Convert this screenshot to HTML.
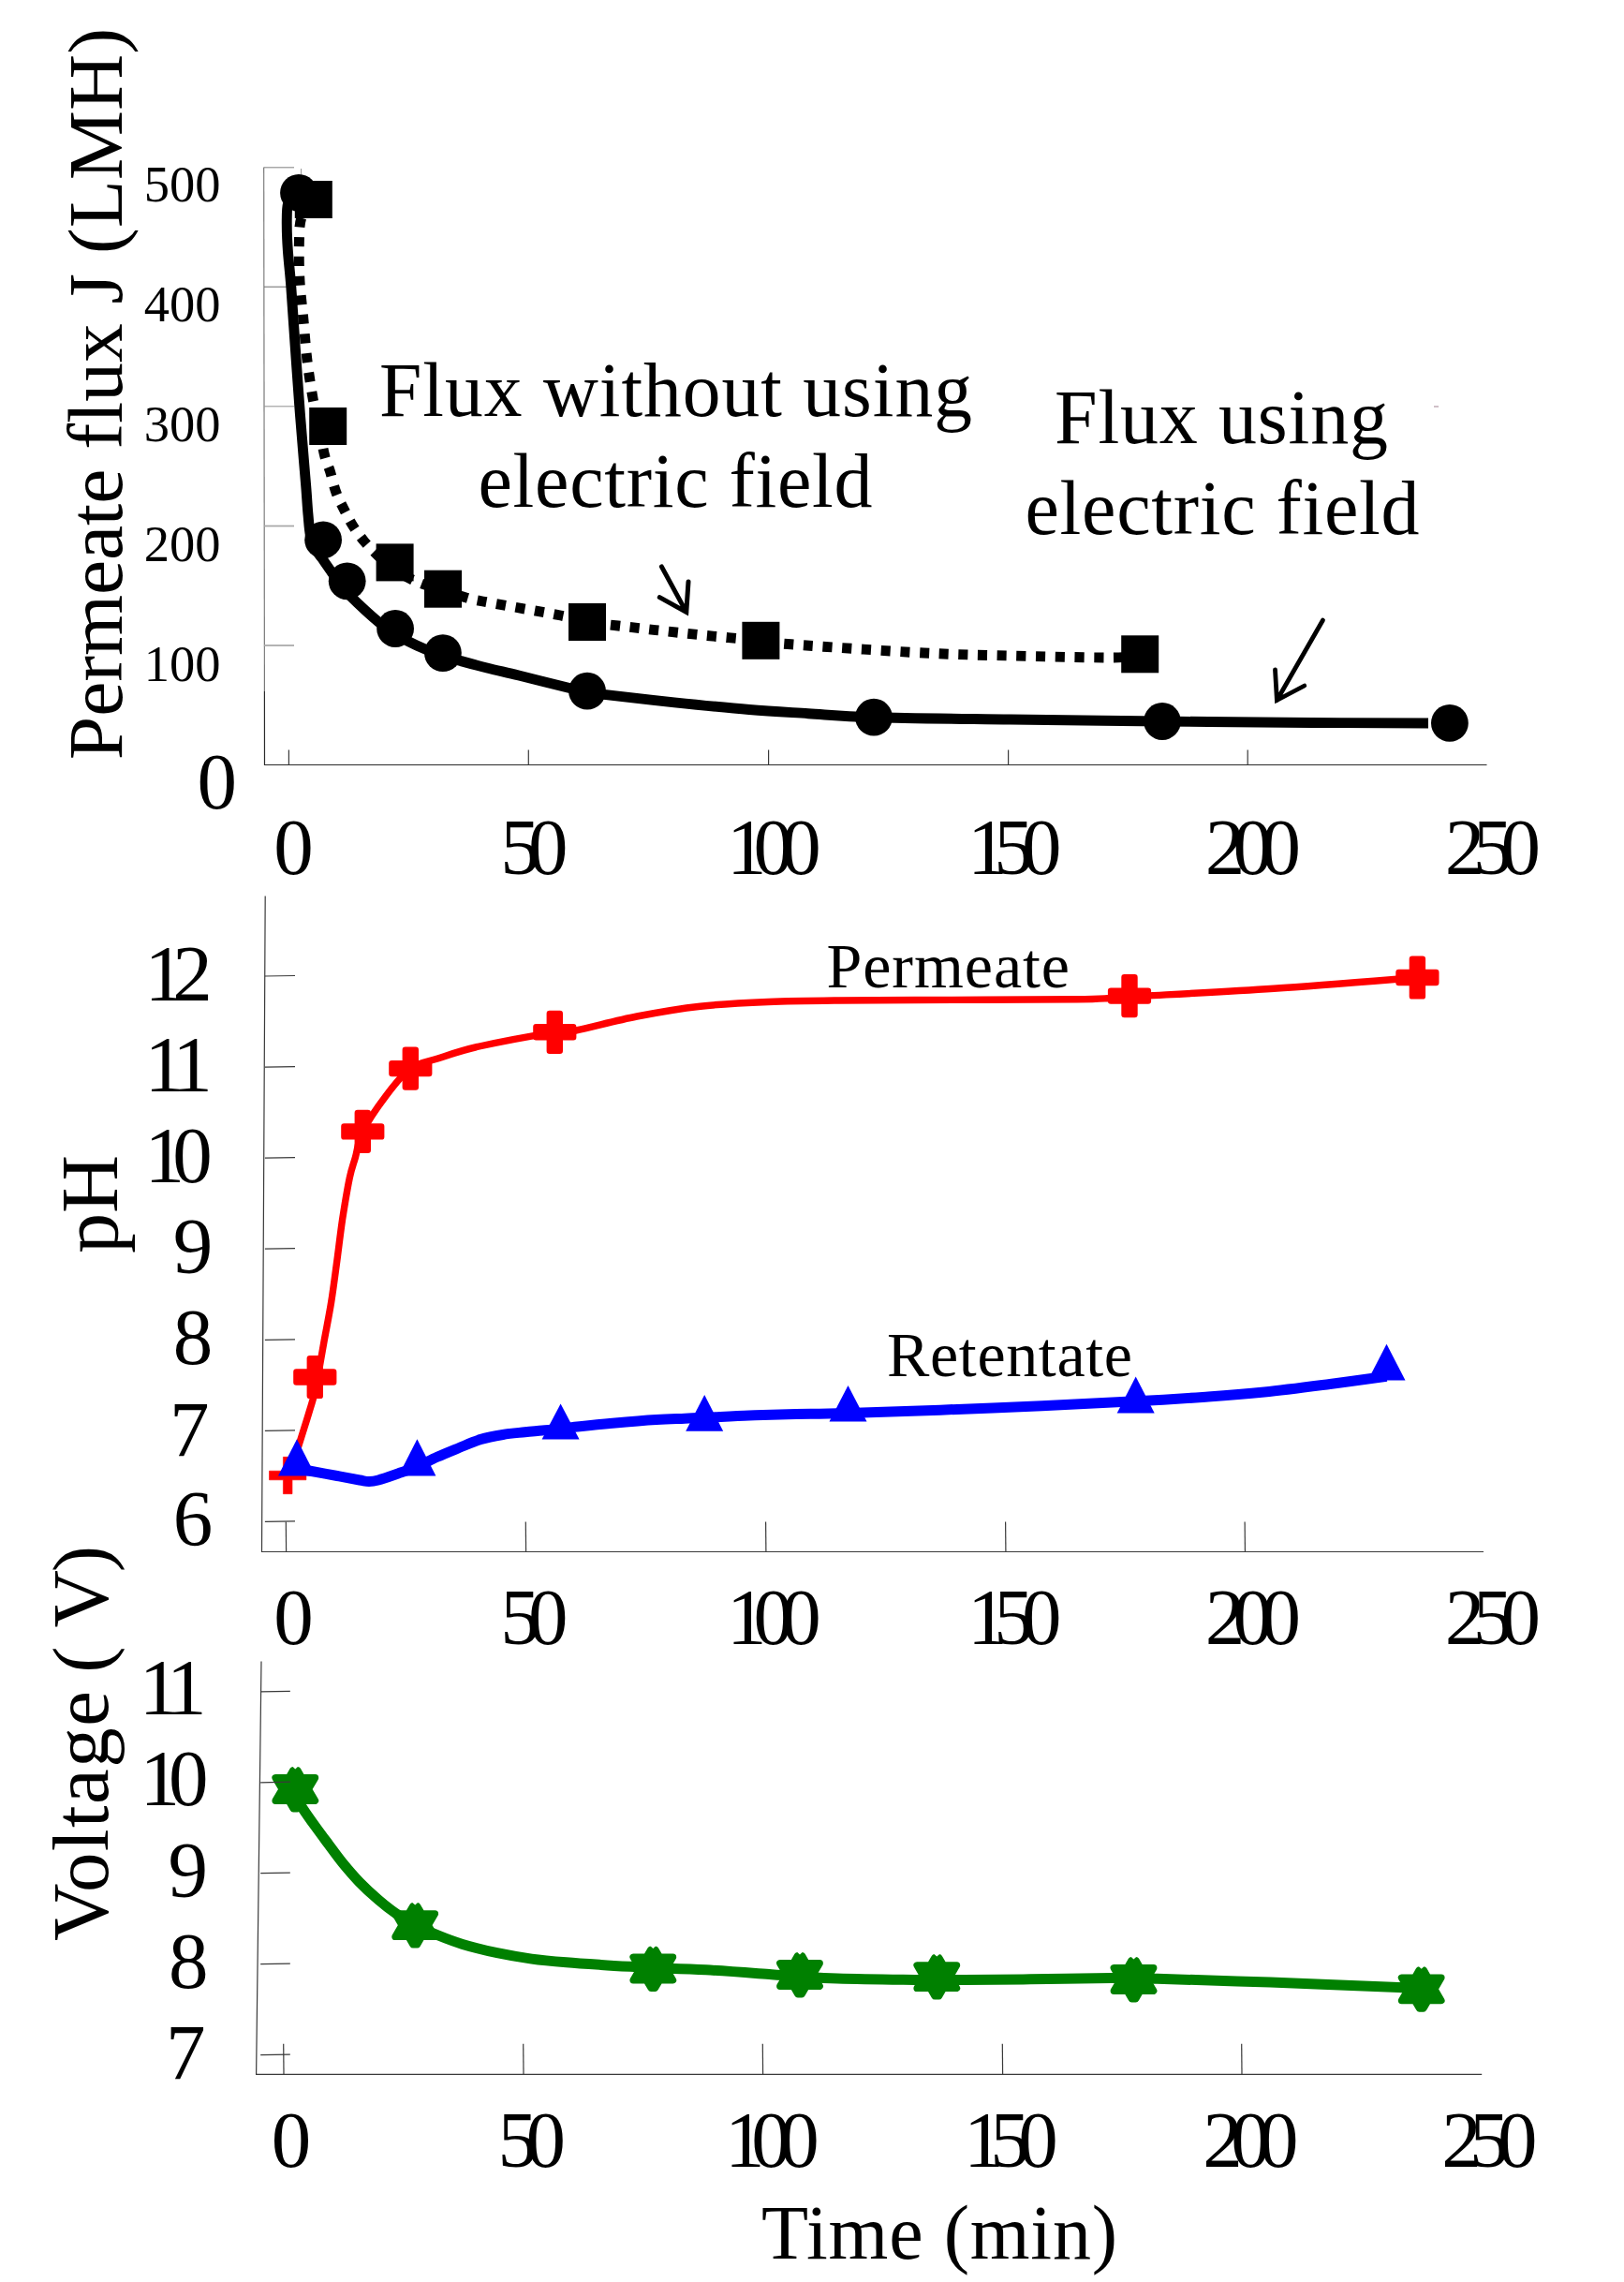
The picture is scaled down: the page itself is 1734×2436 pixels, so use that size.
<!DOCTYPE html>
<html lang="en">
<head>
<meta charset="utf-8">
<title>Permeate flux, pH and voltage versus time</title>
<style>
html,body{margin:0;padding:0;background:#fff;}
body{width:1734px;height:2436px;overflow:hidden;}
svg{display:block;}
svg text{font-family:'Liberation Serif', 'Times New Roman', serif;fill:#000;}
</style>
</head>
<body>
<svg width="1734" height="2436" viewBox="0 0 1734 2436">
<rect x="0" y="0" width="1734" height="2436" fill="#fff"/>
<path d="M281.7,178.5 L282.4,738" fill="none" stroke="#707070" stroke-width="1.1"/>
<path d="M282.4,738 L282.5,816.5 H1587.5" fill="none" stroke="#2a2a2a" stroke-width="1.2"/>
<line x1="282" x2="314" y1="178.8" y2="178.8" stroke="#8a8a8a" stroke-width="1.1"/>
<line x1="282" x2="314" y1="306.2" y2="306.2" stroke="#777" stroke-width="1.1"/>
<line x1="282" x2="314" y1="433.8" y2="433.8" stroke="#999" stroke-width="1.1"/>
<line x1="282" x2="314" y1="561.5" y2="561.5" stroke="#a6a6a6" stroke-width="1.7"/>
<line x1="282" x2="314" y1="689.0" y2="689.0" stroke="#a6a6a6" stroke-width="1.7"/>
<line x1="321.5" x2="321.5" y1="180" y2="187" stroke="#999" stroke-width="1"/>
<line x1="308.4" x2="308.4" y1="800.5" y2="816.5" stroke="#3a3a3a" stroke-width="1.2"/>
<line x1="564.3" x2="564.3" y1="800.5" y2="816.5" stroke="#3a3a3a" stroke-width="1.2"/>
<line x1="820.6" x2="820.6" y1="800.5" y2="816.5" stroke="#3a3a3a" stroke-width="1.2"/>
<line x1="1076.6" x2="1076.6" y1="800.5" y2="816.5" stroke="#3a3a3a" stroke-width="1.2"/>
<line x1="1332.2" x2="1332.2" y1="800.5" y2="816.5" stroke="#3a3a3a" stroke-width="1.2"/>
<text x="235.6" y="214.8" font-size="54.5" text-anchor="end">500</text>
<text x="235.6" y="343.0" font-size="54.5" text-anchor="end">400</text>
<text x="235.6" y="471.1" font-size="54.5" text-anchor="end">300</text>
<text x="235.6" y="599.2" font-size="54.5" text-anchor="end">200</text>
<text x="235.6" y="727.4" font-size="54.5" text-anchor="end">100</text>
<text x="210.4" y="863.0" font-size="85">0</text>
<text x="292.3" y="933.0" font-size="85">0</text>
<text x="534.2 564.1" y="933.0" font-size="85">50</text>
<text x="776.0 804.4 834.3" y="933.0" font-size="85">100</text>
<text x="1033.0 1061.2 1091.0" y="933.0" font-size="85">150</text>
<text x="1286.7 1316.6 1346.5" y="933.0" font-size="85">200</text>
<text x="1542.8 1572.7 1602.6" y="933.0" font-size="85">250</text>
<text transform="translate(130.3,811.3) rotate(-90)" font-size="83.5">Permeate flux J (LMH)</text>
<path d="M334.8,213.0 C332.7,216.2 324.6,224.4 322.0,232.0 C319.4,239.6 319.7,247.2 319.4,258.5 C319.1,269.8 319.2,286.1 320.0,300.0 C320.8,313.9 322.7,327.5 324.0,341.7 C325.3,355.9 326.3,371.1 328.0,385.0 C329.7,398.9 332.2,414.6 334.0,424.8 C335.8,435.0 337.0,436.0 339.0,446.0 C341.0,456.0 344.0,475.1 346.2,484.6 C348.4,494.1 350.3,496.1 352.4,503.0 C354.5,509.9 356.4,519.0 359.0,526.0 C361.6,533.0 364.8,538.8 367.8,544.7 C370.8,550.6 373.4,556.0 377.0,561.6 C380.6,567.2 385.0,573.2 389.3,578.4 C393.6,583.5 398.6,588.3 403.0,592.5 C407.4,596.7 411.8,600.2 416.0,603.5 C420.2,606.8 424.2,609.6 428.0,612.0 C431.8,614.4 434.8,616.2 438.7,618.1 C442.6,620.0 445.8,621.4 451.5,623.5 C457.2,625.6 465.4,628.1 473.0,630.5 C480.6,632.9 489.7,635.9 496.8,637.8 C503.9,639.7 498.5,638.8 515.5,642.0 C532.5,645.2 580.1,653.3 598.7,657.0 C617.3,660.7 616.8,662.2 627.0,664.0 C637.2,665.8 647.8,666.6 660.0,668.0 C672.2,669.4 684.6,670.9 700.0,672.6 C715.4,674.3 733.9,676.4 752.6,678.3 C771.3,680.2 797.0,682.2 812.4,683.8 C827.8,685.4 815.7,685.6 844.7,687.8 C873.7,690.0 947.3,695.0 986.3,697.0 C1025.3,699.0 1045.9,699.2 1078.7,700.0 C1111.5,700.8 1159.9,702.0 1183.0,702.0 C1206.1,702.0 1211.5,700.3 1217.2,700.0" fill="none" stroke="#000" stroke-width="10.9" stroke-dasharray="10.1 10.6" stroke-dashoffset="-3"/>
<rect x="314.8" y="193.0" width="40" height="40"/>
<rect x="330.2" y="435.0" width="40" height="40"/>
<rect x="401.6" y="580.4" width="40" height="40"/>
<rect x="453.0" y="608.7" width="40" height="40"/>
<rect x="607.0" y="644.0" width="40" height="40"/>
<rect x="792.4" y="663.8" width="40" height="40"/>
<rect x="1197.2" y="678.3" width="40" height="40"/>
<path d="M319.0,205.8 C317.2,207.3 310.4,210.6 308.3,215.0 C306.2,219.4 306.5,223.7 306.3,232.0 C306.1,240.3 306.4,252.7 307.2,265.0 C307.9,277.3 309.5,288.5 310.8,306.0 C312.1,323.5 313.7,348.7 315.2,370.0 C316.7,391.3 318.3,414.0 319.8,434.0 C321.3,454.0 323.1,475.7 324.3,490.0 C325.5,504.3 326.0,510.1 326.8,520.0 C327.6,529.9 328.2,540.9 329.0,549.6 C329.8,558.3 330.2,566.0 331.5,572.0 C332.8,578.0 334.5,581.5 336.5,585.5 C338.5,589.5 340.6,591.5 343.6,595.7 C346.6,600.0 350.7,606.0 354.3,611.0 C357.9,616.0 361.3,621.4 365.0,626.0 C368.7,630.6 372.4,634.5 376.6,638.8 C380.8,643.0 385.4,647.3 390.0,651.5 C394.6,655.7 399.2,659.9 404.2,663.9 C409.2,667.9 414.7,672.0 420.0,675.5 C425.3,679.0 430.1,681.6 435.9,684.6 C441.7,687.6 448.6,690.7 454.6,693.2 C460.6,695.7 465.8,697.7 472.0,699.7 C478.2,701.8 483.8,703.3 491.8,705.5 C499.8,707.7 509.6,710.4 520.0,713.0 C530.4,715.6 539.4,717.5 553.9,721.0 C568.4,724.5 594.9,731.3 607.1,734.3 C619.3,737.3 620.4,737.6 627.0,738.8 C633.6,740.0 631.5,739.9 647.0,741.7 C662.5,743.5 694.5,747.2 720.0,749.8 C745.5,752.4 776.2,755.5 800.0,757.5 C823.8,759.5 840.8,760.3 863.0,761.7 C885.2,763.1 897.0,764.7 933.0,765.7 C969.0,766.8 1027.4,767.3 1078.7,768.0 C1130.0,768.7 1187.5,769.4 1241.0,770.0 C1294.5,770.6 1352.7,771.2 1400.0,771.5 C1447.3,771.8 1504.2,771.9 1525.0,772.0" fill="none" stroke="#000" stroke-width="10.9"/>
<circle cx="319.0" cy="205.8" r="19.9"/>
<circle cx="345.1" cy="576.3" r="19.9"/>
<circle cx="370.7" cy="620.3" r="19.9"/>
<circle cx="422.1" cy="671.0" r="19.9"/>
<circle cx="472.9" cy="697.1" r="19.9"/>
<circle cx="627.0" cy="737.7" r="19.9"/>
<circle cx="933.0" cy="765.7" r="19.9"/>
<circle cx="1241.0" cy="770.0" r="19.9"/>
<circle cx="1547.9" cy="771.9" r="19.9"/>
<path d="M706.4,604.9 L732.8,653.4 M735,621 L732.8,653.4 L704.3,637.6" fill="none" stroke="#000" stroke-width="5" stroke-linecap="round" stroke-linejoin="miter" stroke-miterlimit="10"/>
<path d="M1412.5,662 L1363.4,747.5 M1361.5,714.8 L1363.4,747.5 L1392.8,732" fill="none" stroke="#000" stroke-width="4.8" stroke-linecap="round" stroke-linejoin="miter" stroke-miterlimit="10"/>
<line x1="1531" x2="1536" y1="434" y2="434" stroke="#a08090" stroke-width="1"/>
<text x="405" y="444" font-size="81.5" textLength="633" lengthAdjust="spacing">Flux without using</text>
<text x="510.5" y="541" font-size="82" textLength="421" lengthAdjust="spacing">electric field</text>
<text x="1126" y="473.2" font-size="82" textLength="356" lengthAdjust="spacing">Flux using</text>
<text x="1094.5" y="570.2" font-size="82" textLength="421" lengthAdjust="spacing">electric field</text>
<path d="M283.2,956.5 L279.5,1656.5 H1584" fill="none" stroke="#3a3a3a" stroke-width="1.2"/>
<line x1="282.9" x2="315.0" y1="1042.0" y2="1041.5" stroke="#3a3a3a" stroke-width="1.2"/>
<line x1="282.9" x2="315.0" y1="1139.1" y2="1138.6" stroke="#3a3a3a" stroke-width="1.2"/>
<line x1="282.9" x2="315.0" y1="1236.1" y2="1235.6" stroke="#3a3a3a" stroke-width="1.2"/>
<line x1="282.9" x2="315.0" y1="1333.2" y2="1332.7" stroke="#3a3a3a" stroke-width="1.2"/>
<line x1="282.9" x2="315.0" y1="1430.3" y2="1429.8" stroke="#3a3a3a" stroke-width="1.2"/>
<line x1="282.9" x2="315.0" y1="1527.3" y2="1526.8" stroke="#3a3a3a" stroke-width="1.2"/>
<line x1="282.9" x2="315.0" y1="1624.4" y2="1623.9" stroke="#3a3a3a" stroke-width="1.2"/>
<line x1="305.3" x2="305.6" y1="1624.5" y2="1656.5" stroke="#3a3a3a" stroke-width="1.2"/>
<line x1="561.3" x2="561.6" y1="1624.5" y2="1656.5" stroke="#3a3a3a" stroke-width="1.2"/>
<line x1="817.6" x2="817.9" y1="1624.5" y2="1656.5" stroke="#3a3a3a" stroke-width="1.2"/>
<line x1="1073.6" x2="1073.9" y1="1624.5" y2="1656.5" stroke="#3a3a3a" stroke-width="1.2"/>
<line x1="1329.1" x2="1329.4" y1="1624.5" y2="1656.5" stroke="#3a3a3a" stroke-width="1.2"/>
<text x="154.5 184.3" y="1067.5" font-size="85">12</text>
<text x="154.5 184.3" y="1164.6" font-size="85">11</text>
<text x="154.5 184.3" y="1261.7" font-size="85">10</text>
<text x="184.8" y="1358.8" font-size="85">9</text>
<text x="184.8" y="1455.9" font-size="85">8</text>
<text x="181.0" y="1554.5" font-size="85">7</text>
<text x="184.8" y="1650.1" font-size="85">6</text>
<text x="292.3" y="1755.0" font-size="85">0</text>
<text x="534.2 564.1" y="1755.0" font-size="85">50</text>
<text x="776.0 804.4 834.3" y="1755.0" font-size="85">100</text>
<text x="1033.0 1061.2 1091.0" y="1755.0" font-size="85">150</text>
<text x="1286.7 1316.6 1346.5" y="1755.0" font-size="85">200</text>
<text x="1542.8 1572.7 1602.6" y="1755.0" font-size="85">250</text>
<text transform="translate(125,1338) rotate(-90)" font-size="86">pH</text>
<path d="M306.7,1575.2 C308.3,1571.2 313.4,1559.2 316.3,1551.0 C319.2,1542.8 321.9,1533.5 324.2,1526.3 C326.5,1519.1 328.2,1513.6 330.0,1507.6 C331.8,1501.5 333.6,1496.3 335.2,1490.0 C336.8,1483.7 337.5,1479.7 339.3,1470.0 C341.1,1460.3 343.6,1445.3 346.0,1432.0 C348.4,1418.7 351.3,1404.7 353.6,1390.4 C355.9,1376.1 357.8,1360.8 359.8,1346.0 C361.8,1331.2 363.4,1316.5 365.6,1301.7 C367.9,1286.9 371.0,1268.4 373.3,1257.3 C375.6,1246.2 377.2,1243.4 379.5,1235.2 C381.8,1227.0 381.9,1218.8 387.3,1207.9 C392.7,1197.0 403.5,1181.2 412.0,1170.0 C420.5,1158.8 429.1,1147.3 438.3,1140.6 C447.5,1133.9 455.1,1133.9 467.3,1130.0 C479.5,1126.1 490.9,1121.7 511.7,1117.0 C532.5,1112.3 575.1,1104.6 592.3,1101.8 C609.5,1099.0 600.2,1102.8 614.8,1100.0 C629.4,1097.2 657.8,1089.3 680.0,1085.0 C702.2,1080.7 724.5,1076.8 747.8,1074.2 C771.1,1071.6 795.4,1070.5 820.0,1069.5 C844.6,1068.5 857.3,1068.4 895.6,1068.0 C933.9,1067.6 1007.6,1067.5 1050.0,1067.3 C1092.4,1067.1 1127.5,1067.1 1150.0,1066.8 C1172.5,1066.5 1175.7,1066.0 1185.0,1065.5 C1194.3,1065.0 1176.8,1065.7 1206.0,1064.0 C1235.2,1062.3 1308.8,1058.7 1360.0,1055.3 C1411.2,1051.9 1487.8,1045.5 1513.4,1043.5" fill="none" stroke="#f00" stroke-width="7.4"/>
<path d="M302.4,1555.3 H312.0 V1570.2 H326.9 V1579.8 H312.0 V1594.7 H302.4 V1579.8 H287.5 V1570.2 H302.4 Z" fill="#f00" stroke="#f00" stroke-width="0.6" stroke-linejoin="round"/>
<path d="M330.8,1450.1 H341.8 V1464.5 H356.2 V1475.5 H341.8 V1489.9 H330.8 V1475.5 H316.4 V1464.5 H330.8 Z" fill="#f00" stroke="#f00" stroke-width="6.4" stroke-linejoin="round"/>
<path d="M381.8,1188.0 H392.8 V1202.4 H407.2 V1213.4 H392.8 V1227.8 H381.8 V1213.4 H367.4 V1202.4 H381.8 Z" fill="#f00" stroke="#f00" stroke-width="6.4" stroke-linejoin="round"/>
<path d="M432.8,1120.7 H443.8 V1135.1 H458.2 V1146.1 H443.8 V1160.5 H432.8 V1146.1 H418.4 V1135.1 H432.8 Z" fill="#f00" stroke="#f00" stroke-width="6.4" stroke-linejoin="round"/>
<path d="M586.8,1081.9 H597.8 V1096.3 H612.2 V1107.3 H597.8 V1121.7 H586.8 V1107.3 H572.4 V1096.3 H586.8 Z" fill="#f00" stroke="#f00" stroke-width="6.4" stroke-linejoin="round"/>
<path d="M1200.5,1043.2 H1211.5 V1057.6 H1225.9 V1068.6 H1211.5 V1083.0 H1200.5 V1068.6 H1186.1 V1057.6 H1200.5 Z" fill="#f00" stroke="#f00" stroke-width="6.4" stroke-linejoin="round"/>
<path d="M1507.9,1023.6 H1518.9 V1038.0 H1533.3 V1049.0 H1518.9 V1063.4 H1507.9 V1049.0 H1493.5 V1038.0 H1507.9 Z" fill="#f00" stroke="#f00" stroke-width="6.4" stroke-linejoin="round"/>
<path d="M317.5,1567.5 C319.6,1567.9 322.9,1568.7 330.0,1570.0 C337.1,1571.3 351.0,1573.8 360.0,1575.5 C369.0,1577.2 378.3,1579.0 384.0,1580.0 C389.7,1581.0 390.7,1581.5 394.0,1581.5 C397.3,1581.5 398.8,1581.4 404.0,1580.0 C409.2,1578.6 418.1,1575.4 425.0,1573.0 C431.9,1570.6 438.5,1568.5 445.5,1565.5 C452.5,1562.5 459.4,1558.6 466.8,1555.3 C474.2,1552.0 482.4,1548.7 490.2,1545.5 C498.0,1542.3 505.8,1538.7 513.6,1536.4 C521.4,1534.1 529.2,1532.8 537.0,1531.5 C544.8,1530.2 553.4,1529.5 560.4,1528.7 C567.4,1528.0 572.8,1527.6 579.1,1527.0 C585.5,1526.4 591.9,1525.9 598.5,1525.2 C605.1,1524.5 609.6,1523.8 618.9,1522.8 C628.1,1521.8 640.4,1520.5 654.0,1519.3 C667.6,1518.1 687.9,1516.4 700.8,1515.6 C713.7,1514.8 722.6,1514.6 731.2,1514.2 C739.8,1513.8 740.7,1513.8 752.2,1513.3 C763.7,1512.8 783.7,1511.5 800.0,1510.9 C816.3,1510.3 832.4,1509.9 850.0,1509.5 C867.6,1509.1 870.5,1509.6 905.5,1508.5 C940.5,1507.4 1008.8,1505.1 1060.0,1503.0 C1111.2,1500.9 1174.4,1497.8 1212.7,1495.8 C1251.0,1493.8 1267.1,1492.6 1290.0,1491.0 C1312.9,1489.4 1328.3,1488.2 1350.0,1486.0 C1371.7,1483.8 1398.2,1480.3 1420.0,1477.5 C1441.8,1474.7 1470.4,1470.7 1480.5,1469.3" fill="none" stroke="#00f" stroke-width="11"/>
<path d="M317.0,1536.2 L337.0,1575.5 L297.0,1575.5 Z" fill="#00f"/>
<path d="M445.4,1536.2 L465.4,1575.5 L425.4,1575.5 Z" fill="#00f"/>
<path d="M598.6,1498.4 L618.6,1536.4 L578.6,1536.4 Z" fill="#00f"/>
<path d="M752.2,1489.0 L772.2,1527.8 L732.2,1527.8 Z" fill="#00f"/>
<path d="M905.5,1479.0 L925.5,1517.4 L885.5,1517.4 Z" fill="#00f"/>
<path d="M1212.7,1469.4 L1232.7,1508.6 L1192.7,1508.6 Z" fill="#00f"/>
<path d="M1480.5,1434.7 L1500.5,1473.5 L1460.5,1473.5 Z" fill="#00f"/>
<text x="882.5" y="1053.9" font-size="68" textLength="259.5" lengthAdjust="spacing">Permeate</text>
<text x="947" y="1468.7" font-size="68" textLength="262" lengthAdjust="spacing">Retentate</text>
<path d="M279,1773.5 L273.6,2214.3 H1582.2" fill="none" stroke="#3a3a3a" stroke-width="1.2"/>
<line x1="302.7" x2="303.0" y1="2181.8" y2="2214.3" stroke="#3a3a3a" stroke-width="1.2"/>
<line x1="558.7" x2="559.0" y1="2181.8" y2="2214.3" stroke="#3a3a3a" stroke-width="1.2"/>
<line x1="814.3" x2="814.6" y1="2181.8" y2="2214.3" stroke="#3a3a3a" stroke-width="1.2"/>
<line x1="1070.3" x2="1070.6" y1="2181.8" y2="2214.3" stroke="#3a3a3a" stroke-width="1.2"/>
<line x1="1325.7" x2="1326.0" y1="2181.8" y2="2214.3" stroke="#3a3a3a" stroke-width="1.2"/>
<text x="148.8 178.0" y="1830.3" font-size="85">11</text>
<text x="149.5 180.0" y="1927.4" font-size="85">10</text>
<text x="179.5" y="2024.5" font-size="85">9</text>
<text x="180.0" y="2121.6" font-size="85">8</text>
<text x="177.0" y="2220.2" font-size="85">7</text>
<text x="289.8" y="2313.3" font-size="85">0</text>
<text x="531.6 561.5" y="2313.3" font-size="85">50</text>
<text x="774.0 802.3 832.2" y="2313.3" font-size="85">100</text>
<text x="1029.0 1057.3 1087.2" y="2313.3" font-size="85">150</text>
<text x="1284.3 1314.2 1344.1" y="2313.3" font-size="85">200</text>
<text x="1539.2 1569.1 1599.0" y="2313.3" font-size="85">250</text>
<text transform="translate(115.2,2072) rotate(-90)" font-size="85"><tspan x="0" textLength="267" lengthAdjust="spacing">Voltage</tspan><tspan x="286.3">(</tspan><tspan x="334.5">V</tspan><tspan x="393.8">)</tspan></text>
<path d="M310.5,1909.7 C312.5,1913.0 318.3,1922.8 322.6,1929.4 C326.9,1936.0 331.6,1942.6 336.3,1949.1 C341.0,1955.6 345.7,1961.9 350.6,1968.5 C355.5,1975.1 360.2,1981.8 365.7,1988.5 C371.2,1995.2 377.1,2002.2 383.5,2008.8 C389.9,2015.4 397.3,2022.2 403.9,2027.9 C410.5,2033.6 416.4,2038.3 423.0,2042.8 C429.6,2047.3 436.0,2051.2 443.2,2055.0 C450.4,2058.8 457.8,2061.9 466.2,2065.3 C474.6,2068.7 483.1,2072.2 493.9,2075.4 C504.7,2078.6 518.5,2082.1 530.8,2084.7 C543.1,2087.3 555.5,2089.4 567.8,2091.1 C580.1,2092.8 592.4,2093.8 604.7,2094.8 C617.0,2095.9 630.3,2096.7 641.7,2097.4 C653.1,2098.2 663.9,2098.8 673.1,2099.3 C682.4,2099.8 683.8,2099.9 697.2,2100.5 C710.6,2101.1 732.5,2101.6 753.6,2102.8 C774.7,2104.0 807.1,2106.5 823.8,2107.7 C840.5,2108.9 842.1,2109.1 853.8,2109.8 C865.5,2110.5 875.6,2111.4 894.0,2112.0 C912.4,2112.6 946.5,2113.1 964.2,2113.3 C981.9,2113.6 989.0,2113.5 1000.0,2113.5 C1011.0,2113.5 1013.3,2113.6 1030.0,2113.5 C1046.7,2113.4 1073.9,2113.1 1100.0,2112.8 C1126.1,2112.5 1168.3,2111.8 1186.7,2111.6 C1205.1,2111.4 1202.3,2111.8 1210.5,2111.9 C1218.7,2112.0 1211.3,2111.6 1235.6,2112.3 C1259.9,2113.0 1313.4,2114.6 1356.4,2116.1 C1399.4,2117.6 1466.6,2120.3 1493.4,2121.4 C1520.2,2122.5 1513.5,2122.3 1517.5,2122.5" fill="none" stroke="#008000" stroke-width="11"/>
<path d="M317.7,1889.6 L322.4,1897.8 L336.5,1897.8 L329.4,1910.0 L336.5,1922.2 L322.4,1922.2 L317.5,1930.7 L313.1,1930.7 L308.2,1922.2 L294.1,1922.2 L301.2,1910.0 L294.1,1897.8 L308.2,1897.8 L312.9,1889.6 Z" fill="#008000" stroke="#008000" stroke-width="7.4" stroke-linejoin="round"/>
<path d="M312.1,1885.5 L318.5,1885.5 L315.3,1888.4 Z" fill="#fff"/>
<path d="M445.6,2034.8 L450.3,2042.9 L464.4,2042.9 L457.3,2055.2 L464.4,2067.4 L450.3,2067.4 L445.4,2075.9 L441.0,2075.9 L436.1,2067.4 L422.0,2067.4 L429.1,2055.2 L422.0,2042.9 L436.1,2042.9 L440.8,2034.8 Z" fill="#008000" stroke="#008000" stroke-width="7.4" stroke-linejoin="round"/>
<path d="M440.0,2030.7 L446.4,2030.7 L443.2,2033.6 Z" fill="#fff"/>
<path d="M699.7,2081.1 L704.4,2089.2 L718.5,2089.2 L711.4,2101.5 L718.5,2113.8 L704.4,2113.8 L699.5,2122.2 L695.1,2122.2 L690.2,2113.8 L676.1,2113.8 L683.2,2101.5 L676.1,2089.2 L690.2,2089.2 L694.9,2081.1 Z" fill="#008000" stroke="#008000" stroke-width="7.4" stroke-linejoin="round"/>
<path d="M694.1,2077.0 L700.5,2077.0 L697.3,2079.9 Z" fill="#fff"/>
<path d="M856.4,2087.6 L861.1,2095.8 L875.2,2095.8 L868.1,2108.0 L875.2,2120.2 L861.1,2120.2 L856.2,2128.7 L851.8,2128.7 L846.9,2120.2 L832.8,2120.2 L839.9,2108.0 L832.8,2095.8 L846.9,2095.8 L851.6,2087.6 Z" fill="#008000" stroke="#008000" stroke-width="7.4" stroke-linejoin="round"/>
<path d="M850.8,2083.5 L857.2,2083.5 L854.0,2086.4 Z" fill="#fff"/>
<path d="M1002.7,2089.8 L1007.4,2097.9 L1021.5,2097.9 L1014.4,2110.2 L1021.5,2122.4 L1007.4,2122.4 L1002.5,2130.9 L998.1,2130.9 L993.2,2122.4 L979.1,2122.4 L986.2,2110.2 L979.1,2097.9 L993.2,2097.9 L997.9,2089.8 Z" fill="#008000" stroke="#008000" stroke-width="7.4" stroke-linejoin="round"/>
<path d="M997.1,2085.7 L1003.5,2085.7 L1000.3,2088.6 Z" fill="#fff"/>
<path d="M1212.9,2092.6 L1217.6,2100.8 L1231.7,2100.8 L1224.6,2113.0 L1231.7,2125.2 L1217.6,2125.2 L1212.7,2133.7 L1208.3,2133.7 L1203.4,2125.2 L1189.3,2125.2 L1196.4,2113.0 L1189.3,2100.8 L1203.4,2100.8 L1208.1,2092.6 Z" fill="#008000" stroke="#008000" stroke-width="7.4" stroke-linejoin="round"/>
<path d="M1207.3,2088.5 L1213.7,2088.5 L1210.5,2091.4 Z" fill="#fff"/>
<path d="M1520.1,2102.9 L1524.8,2111.1 L1538.9,2111.1 L1531.8,2123.3 L1538.9,2135.6 L1524.8,2135.6 L1519.9,2144.0 L1515.5,2144.0 L1510.6,2135.6 L1496.5,2135.6 L1503.6,2123.3 L1496.5,2111.1 L1510.6,2111.1 L1515.3,2102.9 Z" fill="#008000" stroke="#008000" stroke-width="7.4" stroke-linejoin="round"/>
<path d="M1514.5,2098.8 L1520.9,2098.8 L1517.7,2101.7 Z" fill="#fff"/>
<line x1="278.2" x2="309.8" y1="1805.8" y2="1805.3" stroke="#3a3a3a" stroke-width="1.2"/>
<line x1="278.2" x2="309.8" y1="1902.8" y2="1902.2" stroke="#3a3a3a" stroke-width="1.2"/>
<line x1="278.2" x2="309.8" y1="1999.7" y2="1999.2" stroke="#3a3a3a" stroke-width="1.2"/>
<line x1="278.2" x2="309.8" y1="2096.7" y2="2096.2" stroke="#3a3a3a" stroke-width="1.2"/>
<line x1="278.2" x2="309.8" y1="2193.6" y2="2193.1" stroke="#3a3a3a" stroke-width="1.2"/>
<text x="813" y="2410.8" font-size="82" textLength="380" lengthAdjust="spacing">Time (min)</text>
</svg>
</body>
</html>
